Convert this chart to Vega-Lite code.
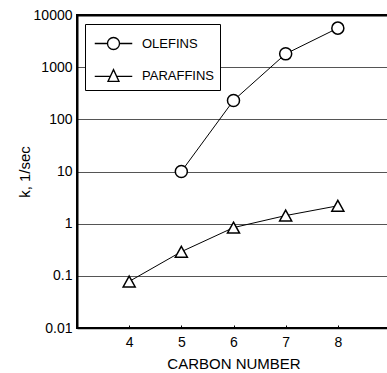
{
  "$schema": "https://vega.github.io/schema/vega-lite/v6.json",
  "width": 313,
  "height": 313,
  "autosize": "none",
  "padding": {"left": 77, "top": 15, "right": 0, "bottom": 45},
  "background": "white",
  "config": {
    "font": "Liberation Sans",
    "view": {"stroke": "black", "strokeWidth": 2}
  },
  "data": {
    "values": [
      {"series": "OLEFINS", "carbon": 5, "k": 10},
      {"series": "OLEFINS", "carbon": 6, "k": 230},
      {"series": "OLEFINS", "carbon": 7, "k": 1800},
      {"series": "OLEFINS", "carbon": 8, "k": 5600},
      {"series": "PARAFFINS", "carbon": 4, "k": 0.078},
      {"series": "PARAFFINS", "carbon": 5, "k": 0.29},
      {"series": "PARAFFINS", "carbon": 6, "k": 0.84},
      {"series": "PARAFFINS", "carbon": 7, "k": 1.43},
      {"series": "PARAFFINS", "carbon": 8, "k": 2.2}
    ]
  },
  "encoding": {
    "x": {
      "field": "carbon",
      "type": "quantitative",
      "scale": {"domain": [3, 9], "nice": false, "zero": false},
      "axis": {
        "values": [4, 5, 6, 7, 8],
        "title": "CARBON NUMBER",
        "grid": false,
        "domainColor": "black",
        "domainWidth": 1.5,
        "tickColor": "black",
        "tickSize": -3,
        "labelPadding": 10,
        "labelFontSize": 14,
        "labelColor": "black",
        "titleFontSize": 15,
        "titleFontWeight": "normal",
        "titleColor": "black",
        "titlePadding": 7
      }
    },
    "y": {
      "field": "k",
      "type": "quantitative",
      "scale": {"type": "log", "domain": [0.01, 10000], "nice": false},
      "axis": {
        "values": [0.01, 0.1, 1, 10, 100, 1000, 10000],
        "format": "~g",
        "title": "k, 1/sec",
        "ticks": false,
        "domainColor": "black",
        "domainWidth": 2,
        "grid": true,
        "gridColor": {"condition": {"test": "datum.value >= 10000 || datum.value <= 0.01", "value": "black"}, "value": "#555"},
        "gridWidth": {"condition": {"test": "datum.value >= 10000", "value": 2}, "value": 1},
        "labelPadding": 5,
        "labelFontSize": 14,
        "labelColor": "black",
        "titleFontSize": 15,
        "titleFontWeight": "normal",
        "titleColor": "black",
        "titlePadding": 1
      }
    }
  },
  "resolve": {"scale": {"shape": "independent"}},
  "layer": [
    {
      "mark": {"type": "line", "color": "black", "strokeWidth": 1},
      "encoding": {"detail": {"field": "series", "type": "nominal"}}
    },
    {
      "mark": {"type": "point", "filled": true, "fill": "white", "stroke": "black", "strokeWidth": 1.5, "size": 145, "opacity": 1},
      "encoding": {
        "shape": {
          "field": "series",
          "type": "nominal",
          "scale": {"domain": ["OLEFINS", "PARAFFINS"], "range": ["circle", "M0,-0.9L1,0.9L-1,0.9Z"]},
          "legend": null
        }
      }
    },
    {
      "transform": [{"filter": "datum.k < 0"}],
      "mark": {"type": "point", "filled": false, "stroke": "black", "strokeWidth": 1.3, "size": 625, "opacity": 1},
      "encoding": {
        "shape": {
          "field": "series",
          "type": "nominal",
          "scale": {
            "domain": ["OLEFINS", "PARAFFINS"],
            "range": [
              "M-1.5,0L-0.48,0M0.48,0L1.5,0M-0.48,0A0.48,0.48,0,1,1,0.48,0A0.48,0.48,0,1,1,-0.48,0Z",
              "M-1.5,0.07L-0.25,0.07M0.25,0.07L1.5,0.07M0,-0.47L0.44,0.47L-0.44,0.47Z"
            ]
          },
          "legend": {
            "title": null,
            "orient": "none",
            "legendX": 8,
            "legendY": 9,
            "padding": 6,
            "symbolSize": 625,
            "symbolOffset": 9,
            "labelOffset": 15,
            "rowPadding": 9,
            "labelFontSize": 13,
            "labelColor": "black",
            "strokeColor": "black",
            "fillColor": "white",
            "symbolStrokeColor": "black",
            "symbolStrokeWidth": 1.3,
            "symbolFillColor": "white",
            "symbolOpacity": 1,
            "labelExpr": "datum.label + '  '",
            "encode": {
              "legend": {"update": {"strokeWidth": {"value": 1.5}}}
            }
          }
        }
      }
    }
  ]
}
